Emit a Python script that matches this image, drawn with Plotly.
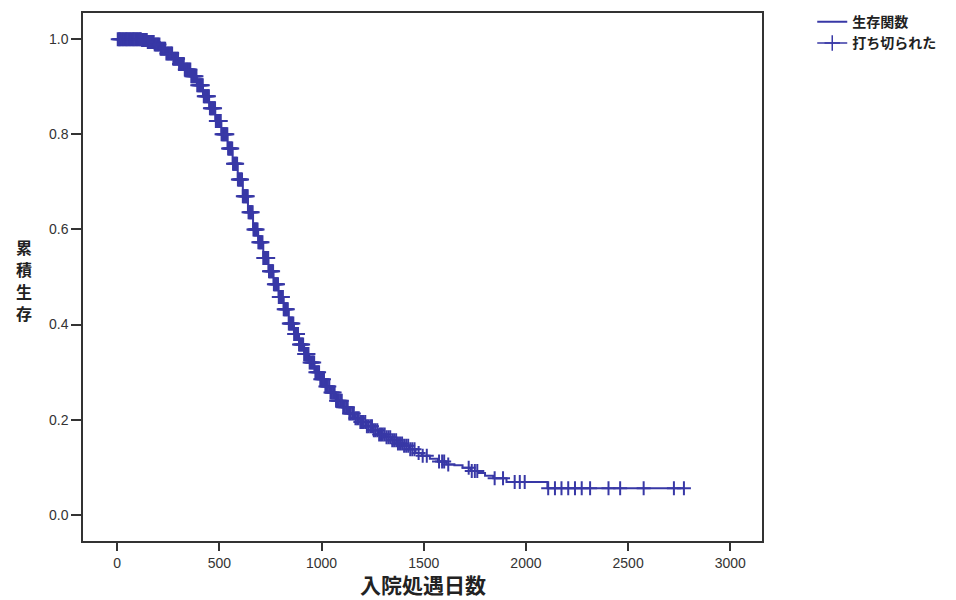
import numpy as np
import plotly.graph_objects as go

# Kaplan-Meier survival function (step knots)
surv_days = [0, 120, 150, 180, 210, 240, 270, 300, 330, 360, 390, 420, 450, 480, 510,
             540, 565, 590, 615, 640, 665, 690, 715, 740, 765, 790, 815, 840, 865, 890,
             915, 940, 965, 990, 1015, 1040, 1070, 1100, 1130, 1160, 1190, 1220, 1250,
             1280, 1310, 1340, 1370, 1400, 1430, 1460, 1490, 1530, 1570, 1610, 1650,
             1690, 1730, 1770, 1800, 1840, 1905, 2105, 2773]
surv_vals = [1.000, 0.998, 0.994, 0.989, 0.980, 0.970, 0.959, 0.948, 0.936, 0.922, 0.903,
             0.880, 0.855, 0.828, 0.800, 0.770, 0.738, 0.705, 0.670, 0.636, 0.600, 0.573,
             0.540, 0.512, 0.485, 0.458, 0.432, 0.402, 0.380, 0.358, 0.338, 0.320, 0.300,
             0.285, 0.270, 0.257, 0.240, 0.226, 0.213, 0.203, 0.195, 0.186, 0.178, 0.169,
             0.163, 0.157, 0.150, 0.145, 0.138, 0.130, 0.124, 0.118, 0.112, 0.106, 0.104,
             0.099, 0.092, 0.088, 0.082, 0.077, 0.069, 0.056, 0.056]

# censored observations (days)
censor_days = [
    3, 9, 14, 20, 26, 31, 37, 43, 48, 54, 60, 65, 71, 77, 82, 88, 94, 99, 105, 111,
    116, 122, 128, 133, 139, 145, 150, 156, 162, 167, 173, 179, 184, 190, 196, 201,
    207, 213, 218, 224, 230, 235, 241, 247, 252, 258, 264, 269, 275, 281, 286, 292,
    298, 303, 309, 315, 320, 326, 331, 337, 342, 347, 353, 358, 363, 368, 373, 378,
    383, 388, 392, 397, 401, 406, 410, 415, 419, 424, 428, 432, 437, 441, 445, 449,
    454, 458, 462, 466, 470, 475, 479, 483, 487, 491, 495, 499, 503, 507, 511, 515,
    519, 523, 527, 531, 535, 539, 543, 547, 551, 555, 559, 563, 567, 571, 575, 579,
    583, 587, 591, 595, 599, 603, 607, 611, 615, 619, 623, 627, 631, 635, 639, 643,
    647, 651, 655, 659, 663, 667, 671, 675, 679, 683, 687, 691, 695, 699, 703, 707,
    711, 715, 719, 723, 727, 731, 735, 739, 743, 747, 751, 755, 759, 763, 767, 771,
    775, 779, 783, 787, 791, 795, 799, 803, 807, 811, 815, 819, 823, 827, 831, 835,
    840, 844, 848, 853, 857, 862, 866, 871, 875, 880, 885, 890, 895, 900, 905, 910,
    915, 920, 925, 931, 936, 942, 947, 953, 958, 964, 970, 976, 982, 988, 994, 1000,
    1006, 1012, 1019, 1025, 1031, 1038, 1044, 1051, 1058, 1064, 1071, 1078, 1085,
    1092, 1099, 1106, 1114, 1121, 1128, 1136, 1143, 1151, 1158, 1166, 1174, 1182,
    1190, 1198, 1206, 1214, 1222, 1230, 1239, 1247, 1256, 1264, 1273, 1282, 1291,
    1300, 1309, 1318, 1327, 1336, 1346, 1355, 1365, 1374, 1384, 1394, 1404, 1414,
    1424, 1434, 1444, 1455, 1475, 1495, 1515, 1575, 1590, 1600, 1620, 1720, 1735,
    1750, 1762, 1847, 1888, 1945, 1970, 1994, 2109, 2142, 2174, 2207, 2240, 2273,
    2314, 2404, 2461, 2576, 2724, 2773]

x_ticks = [0, 500, 1000, 1500, 2000, 2500, 3000]
y_ticks = [0.0, 0.2, 0.4, 0.6, 0.8, 1.0]

x_title = "入院処遇日数"
y_title = "累積生存"
legend_names = ["生存関数", "打ち切られた"]

# survival value of the step function at each censored time
sd = np.array(surv_days)
sv = np.array(surv_vals)
idx = np.searchsorted(sd, np.array(censor_days), side="right") - 1
censor_vals = sv[idx]

BLUE = "#3838A6"
CJK = "Noto Sans CJK JP, Noto Sans CJK SC, sans-serif"
LAT = "Liberation Sans, Arial, sans-serif"

fig = go.Figure()
fig.add_trace(go.Scatter(x=surv_days, y=surv_vals, mode="lines", line_shape="hv",
                         line=dict(color=BLUE, width=2), name=legend_names[0]))
fig.add_trace(go.Scatter(x=censor_days, y=censor_vals, mode="markers", showlegend=False,
                         marker=dict(symbol="cross-thin", size=10,
                                     line=dict(color=BLUE, width=2)),
                         name=legend_names[1]))
fig.add_trace(go.Scatter(x=[None], y=[None], mode="lines+markers",
                         line=dict(color=BLUE, width=1.5),
                         marker=dict(symbol="cross-thin", size=11,
                                     line=dict(color=BLUE, width=1.5)),
                         name=legend_names[1]))

fig.update_layout(
    width=956, height=600,
    margin=dict(l=83, r=194, t=13, b=59, autoexpand=False),
    paper_bgcolor="white", plot_bgcolor="white",
    showlegend=True,
    legend=dict(x=1.074, y=1.013, xanchor="left", yanchor="top",
                font=dict(family=CJK, size=14, color="#222", weight="bold"),
                bgcolor="rgba(0,0,0,0)", tracegroupgap=0, itemwidth=30),
    xaxis=dict(range=[-167, 3155], tickmode="array", tickvals=x_ticks,
               ticktext=[str(v) for v in x_ticks],
               showgrid=False, zeroline=False, showline=True, mirror=True,
               linecolor="#333", linewidth=1.5,
               ticks="outside", ticklen=8, tickwidth=1.5, tickcolor="#333",
               tickfont=dict(family=LAT, size=14, color="#333")),
    yaxis=dict(range=[-0.055, 1.055], tickmode="array", tickvals=y_ticks,
               ticktext=[f"{v:.1f}" for v in y_ticks],
               showgrid=False, zeroline=False, showline=True, mirror=True,
               linecolor="#333", linewidth=1.5,
               ticks="outside", ticklen=10, tickwidth=1.5, tickcolor="#333",
               tickfont=dict(family=LAT, size=14, color="#333")),
)

# x-axis title
fig.add_annotation(text=f"<b>{x_title}</b>", xref="paper", yref="paper", x=0.5, y=0,
                   yshift=-43, showarrow=False, yanchor="middle",
                   font=dict(family=CJK, size=21, color="#222"))
# vertical y-axis title, one character per row
n = len(y_title)
step = 22
for i, ch in enumerate(y_title):
    fig.add_annotation(text=f"<b>{ch}</b>", xref="paper", yref="paper", x=0, y=0.5,
                       xshift=-59, yshift=(n - 1) / 2 * step - i * step - 3,
                       showarrow=False, xanchor="center", yanchor="middle",
                       font=dict(family=CJK, size=16, color="#222"))

fig.write_html("out.html")
